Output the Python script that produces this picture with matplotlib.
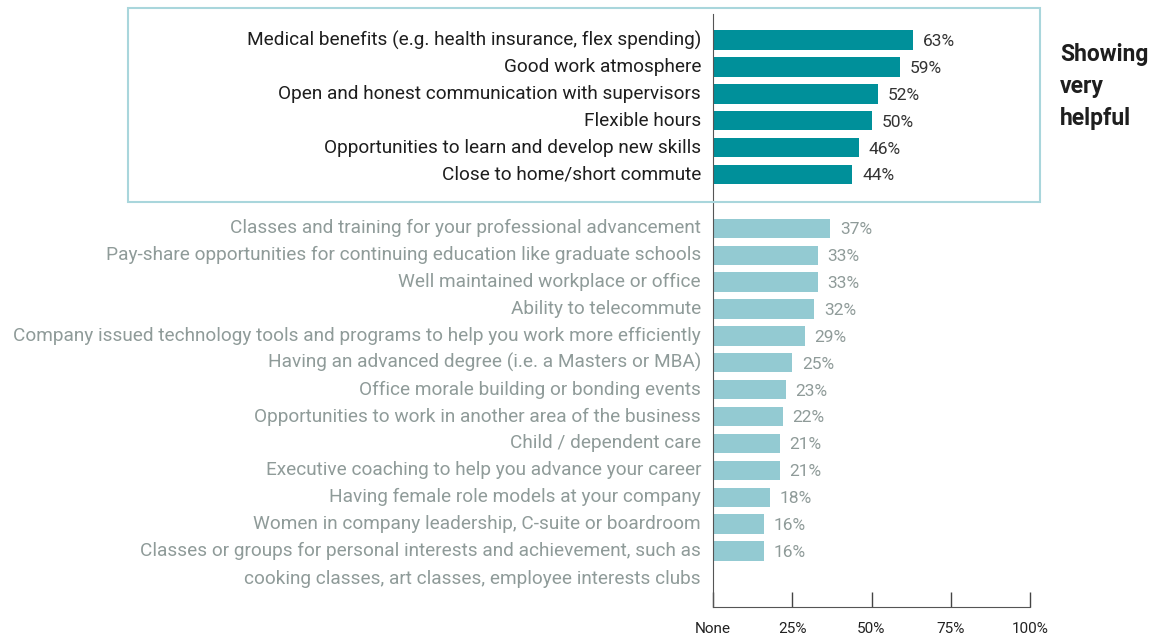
import matplotlib
matplotlib.use("Agg")
import matplotlib.pyplot as plt
from matplotlib.patches import Rectangle

plt.rcParams['font.family'] = ['Roboto', 'DejaVu Sans']

top_labels = [
    "Medical benefits (e.g. health insurance, flex spending)",
    "Good work atmosphere",
    "Open and honest communication with supervisors",
    "Flexible hours",
    "Opportunities to learn and develop new skills",
    "Close to home/short commute",
]
top_values = [63, 59, 52, 50, 46, 44]

other_labels = [
    "Classes and training for your professional advancement",
    "Pay-share opportunities for continuing education like graduate schools",
    "Well maintained workplace or office",
    "Ability to telecommute",
    "Company issued technology tools and programs to help you work more efficiently",
    "Having an advanced degree (i.e. a Masters or MBA)",
    "Office morale building or bonding events",
    "Opportunities to work in another area of the business",
    "Child / dependent care",
    "Executive coaching to help you advance your career",
    "Having female role models at your company",
    "Women in company leadership, C-suite or boardroom",
    "Classes or groups for personal interests and achievement, such as\ncooking classes, art classes, employee interests clubs",
]
other_values = [37, 33, 33, 32, 29, 25, 23, 22, 21, 21, 18, 16, 16]

tick_vals = [0, 25, 50, 75, 100]
tick_text = ["None", "25%", "50%", "75%", "100%"]

dark = "#00909a"
light = "#93cad2"
dark_txt = "#1e1e1e"
grey_txt = "#8f9b99"

W, H = 1150, 636
fig = plt.figure(figsize=(W / 100, H / 100), dpi=100)
ax = fig.add_axes([713 / W, (H - 607) / H, 317 / W, 593 / H])

top_pos = list(range(len(top_labels)))
other_pos = [7 + i for i in range(len(other_labels))]

ax.barh(top_pos, top_values, height=0.72, color=dark)
ax.barh(other_pos, other_values, height=0.72, color=light)

lab_x = -12 / 317
fs = 13.7
for y, v, lab in zip(top_pos, top_values, top_labels):
    ax.annotate(f"{v}%", (v, y), xytext=(7, -1), textcoords="offset points",
                va="center", ha="left", fontsize=12.5, color="#333333")
    ax.text(lab_x, y, lab, transform=ax.get_yaxis_transform(),
            ha="right", va="center", fontsize=fs, color=dark_txt)

for y, v, lab in zip(other_pos, other_values, other_labels):
    ax.annotate(f"{v}%", (v, y), xytext=(7, -1), textcoords="offset points",
                va="center", ha="left", fontsize=12.5, color=grey_txt)
    if "\n" in lab:
        ax.text(lab_x, y + 0.5, lab, transform=ax.get_yaxis_transform(),
                ha="right", va="center", fontsize=fs, color=grey_txt,
                linespacing=1.72)
    else:
        ax.text(lab_x, y, lab, transform=ax.get_yaxis_transform(),
                ha="right", va="center", fontsize=fs, color=grey_txt)

ax.set_xlim(0, 100)
ax.set_ylim(21.08, -0.97)
ax.set_yticks([])
ax.set_xticks(tick_vals)
ax.set_xticklabels(tick_text, fontsize=11, color="#222222")
ax.tick_params(axis="x", direction="in", length=11, width=1, color="#444444", pad=11)
for s in ["top", "right"]:
    ax.spines[s].set_visible(False)
ax.spines["left"].set_color("#555555")
ax.spines["bottom"].set_color("#555555")

fig.patches.append(Rectangle((128 / W, (H - 202) / H), 912 / W, 194 / H,
                             transform=fig.transFigure, fill=False,
                             edgecolor="#a9d6dc", linewidth=1.5))

fig.text(1060 / W, (H - 86) / H, "Showing\nvery\nhelpful", ha="left", va="center",
         fontsize=16.5, fontweight="bold", color="#1e1e1e", linespacing=1.5)

fig.savefig("out.png", dpi=100)
